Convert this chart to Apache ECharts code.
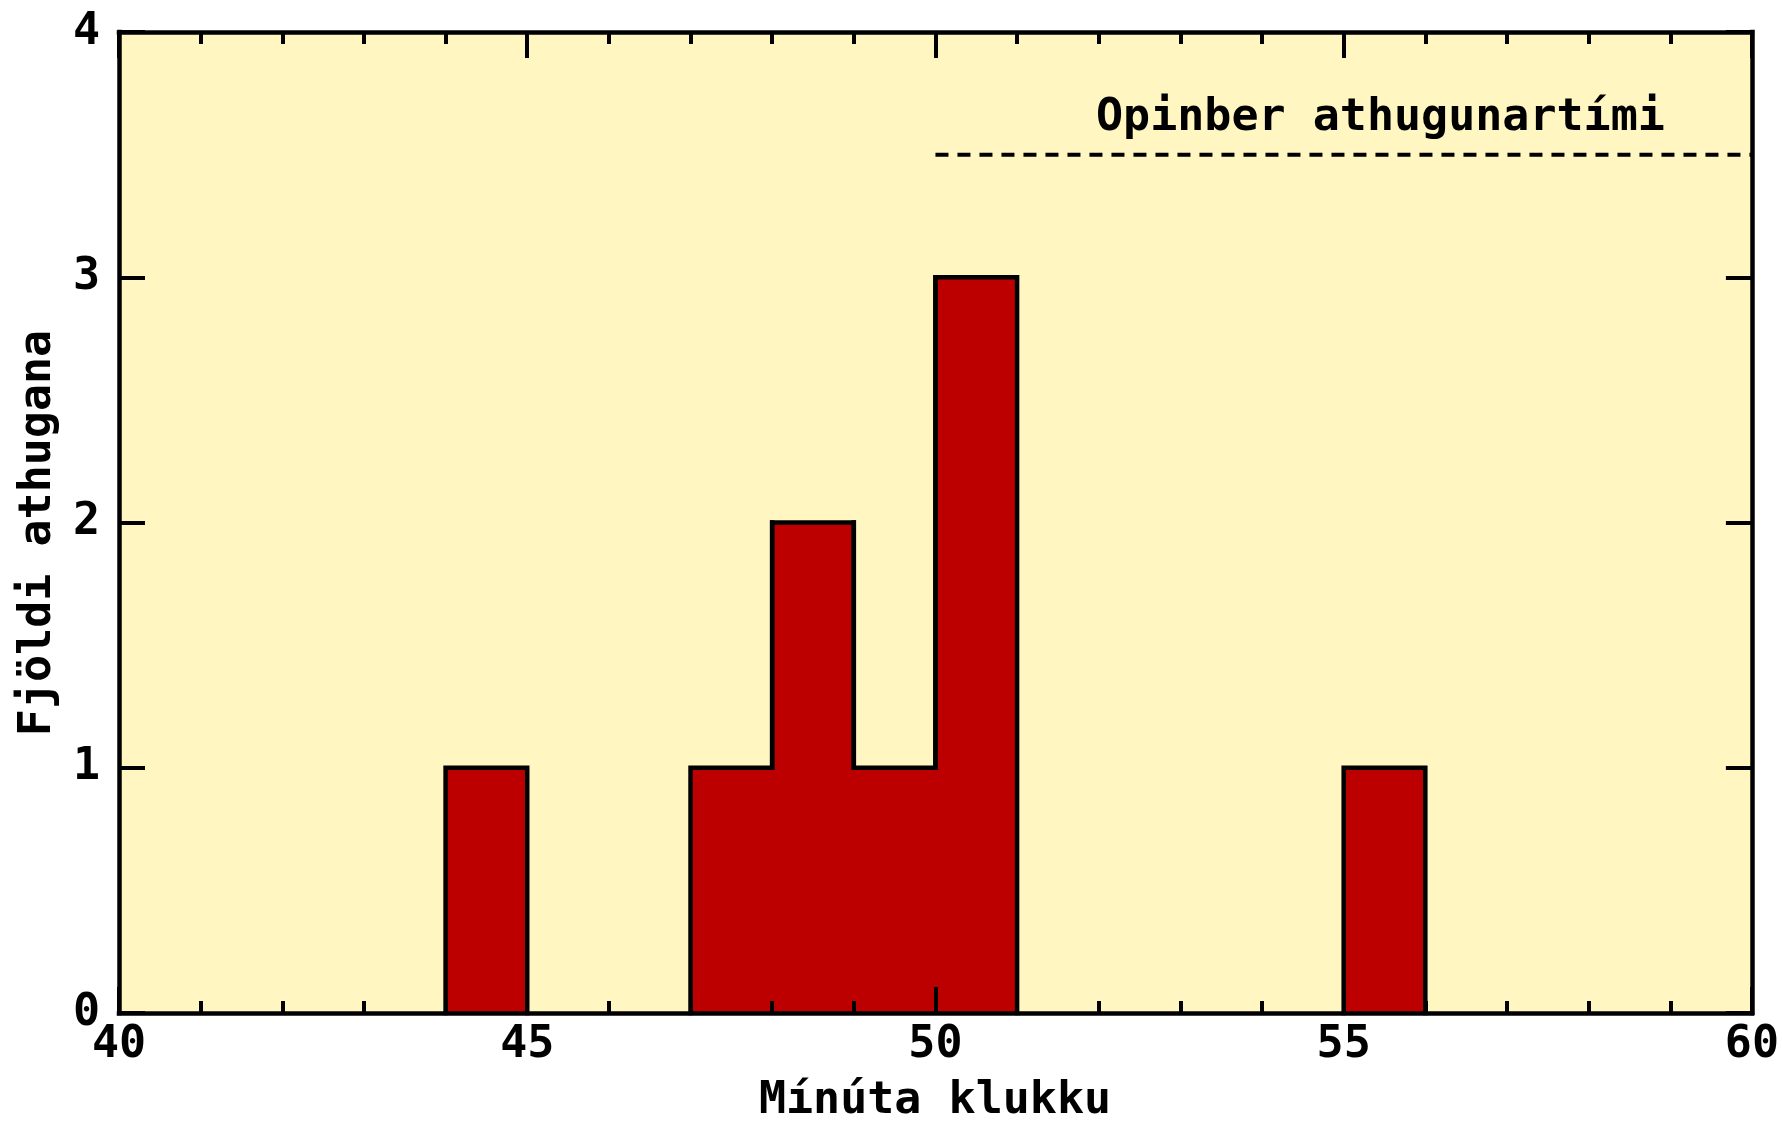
<!DOCTYPE html>
<html>
<head>
<meta charset="utf-8">
<script src="https://cdn.jsdelivr.net/npm/echarts@6/dist/echarts.min.js"></script>
<style>
html,body{margin:0;padding:0;background:#fff;}
#chart{width:1782px;height:1125px;}
</style>
</head>
<body>
<div id="chart"></div>
<script>
// ---- data ----
const binStart = [44, 47, 48, 49, 50, 55];
const binEnd   = [45, 48, 49, 50, 51, 56];
const counts   = [1, 1, 2, 1, 3, 1];
const xRange = [40, 60];
const xTickStep = 5;
const yRange = [0, 4];
const yTickStep = 1;
const refLineX = [50, 60];
const refLineY = 3.5;
const refLabel = 'Opinber athugunartími';
const refLabelPos = [55.45, 3.65];
const xTitle = 'Mínúta klukku';
const yTitle = 'Fjöldi athugana';

// ---- styles ----
const FONT = 'DejaVu Sans Mono';
const FS = 45;
const FW = 'bold';
const BG = '#FFF6C1';
const BAR = '#BC0000';

const chart = echarts.init(document.getElementById('chart'), null, {renderer: 'canvas'});

function heightEndingAt(x) {
  for (let j = 0; j < binEnd.length; j++) if (binEnd[j] === x) return counts[j];
  return 0;
}
function heightStartingAt(x) {
  for (let j = 0; j < binStart.length; j++) if (binStart[j] === x) return counts[j];
  return 0;
}

function renderItem(params, api) {
  const x0 = api.value(0), x1 = api.value(1), h = api.value(2);
  const prevH = heightEndingAt(x0);
  const nextH = heightStartingAt(x1);
  const p00 = api.coord([x0, 0]);
  const p0h = api.coord([x0, h]);
  const p1h = api.coord([x1, h]);
  const pPrev = api.coord([x0, prevH]);
  const pNext = api.coord([x1, nextH]);
  return {
    type: 'group',
    children: [
      {type: 'rect', z2: 0,
       shape: {x: p0h[0], y: p0h[1], width: p1h[0] - p0h[0], height: p00[1] - p0h[1]},
       style: {fill: BAR, stroke: BAR, lineWidth: 2}},
      {type: 'polyline', z2: 10,
       shape: {points: [pPrev, p0h, p1h, pNext]},
       style: {stroke: '#000', lineWidth: 4.5, fill: null, lineJoin: 'miter', lineCap: 'square'}}
    ]
  };
}

const histData = binStart.map((s, i) => [s, binEnd[i], counts[i]]);

const axisLineStyle = {color: '#000', width: 4.5, cap: 'square'};
const tickStyle = {color: '#000', width: 4};

function makeX(pos, showLabel) {
  return {
    type: 'value', position: pos, min: xRange[0], max: xRange[1], interval: xTickStep,
    z: 10,
    axisLine: {show: true, onZero: false, lineStyle: axisLineStyle},
    axisTick: {show: true, inside: true, length: 26, lineStyle: tickStyle},
    minorTick: {show: true, splitNumber: 5, length: 12, lineStyle: tickStyle},
    splitLine: {show: false},
    minorSplitLine: {show: false},
    axisLabel: {show: showLabel, color: '#000', fontFamily: FONT, fontWeight: FW, fontSize: FS, margin: 10}
  };
}
function makeY(pos, showLabel) {
  return {
    type: 'value', position: pos, min: yRange[0], max: yRange[1], interval: yTickStep,
    z: 10,
    axisLine: {show: true, onZero: false, lineStyle: axisLineStyle},
    axisTick: {show: true, inside: true, length: 26, lineStyle: tickStyle},
    splitLine: {show: false},
    axisLabel: {show: showLabel, color: '#000', fontFamily: FONT, fontWeight: FW, fontSize: FS, margin: 19}
  };
}

const fontStr = FW + ' ' + FS + 'px "' + FONT + '"';

const option = {
  animation: false,
  backgroundColor: '#fff',
  grid: {left: 119, right: 30, top: 32, bottom: 112, show: true, backgroundColor: BG, borderWidth: 0},
  xAxis: [makeX('bottom', true), makeX('top', false)],
  yAxis: [makeY('left', true), makeY('right', false)],
  graphic: [
    {type: 'text', x: 935, y: 1101, silent: true,
     style: {text: xTitle, font: fontStr, fill: '#000', textAlign: 'center', textVerticalAlign: 'middle'}},
    {type: 'text', x: 38, y: 533, rotation: Math.PI / 2, silent: true,
     style: {text: yTitle, font: fontStr, fill: '#000', textAlign: 'center', textVerticalAlign: 'middle'}}
  ],
  series: [
    {
      type: 'custom', renderItem: renderItem, data: histData, silent: true,
      xAxisIndex: 0, yAxisIndex: 0, z: 2,
      encode: {x: [0, 1], y: 2}
    },
    {
      type: 'line', silent: true, xAxisIndex: 0, yAxisIndex: 0, z: 3,
      data: refLineX.map(x => [x, refLineY]),
      symbol: 'none',
      lineStyle: {color: '#000', width: 4, type: [13, 9]}
    },
    {
      type: 'scatter', silent: true, xAxisIndex: 0, yAxisIndex: 0, z: 3,
      data: [refLabelPos], symbolSize: 1,
      itemStyle: {color: 'rgba(0,0,0,0)', opacity: 1},
      label: {show: true, position: 'inside', formatter: () => refLabel, opacity: 1,
              color: '#000', fontFamily: FONT, fontWeight: FW, fontSize: FS}
    }
  ]
};
chart.setOption(option);
</script>
</body>
</html>
